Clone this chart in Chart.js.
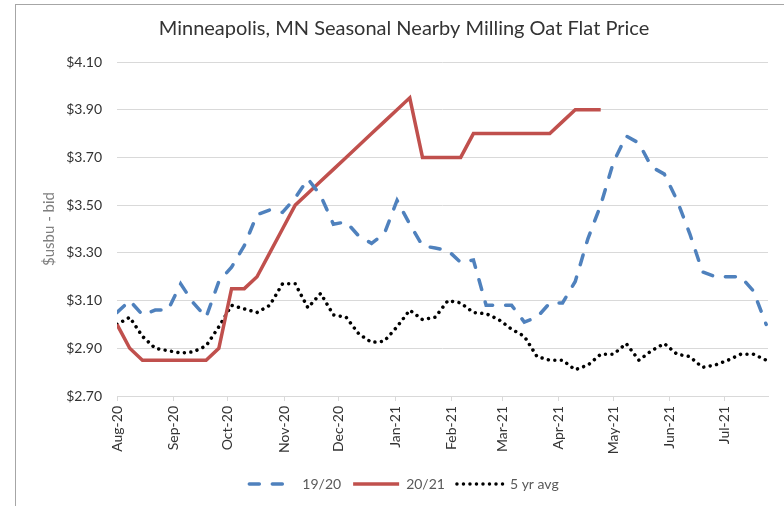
<!DOCTYPE html>
<html>
<head>
<meta charset="utf-8">
<script src="https://cdn.jsdelivr.net/npm/chart.js@4"></script>
<style>
  html, body { margin: 0; padding: 0; background: #fff; }
  #wrap { position: relative; width: 784px; height: 506px; overflow: hidden; }
  #frame { position: absolute; left: 15px; top: 4px; width: 800px; height: 600px; border: 1px solid #a6a6a6; }
  canvas { position: absolute; left: 0; top: 0; }
</style>
</head>
<body>
<div id="wrap">
  <div id="frame"></div>
  <canvas id="chart" width="784" height="506"></canvas>
</div>
<script>
// Weekly prices, first week = Aug 1 2020
const startDate = '2020-08-01';

const price1920 = [
  3.05, 3.10, 3.04, 3.06, 3.06, 3.17, 3.09, 3.03, 3.18, 3.24,
  3.33, 3.46, 3.48, 3.47, 3.53, 3.61, 3.54, 3.42, 3.43, 3.37,
  3.34, 3.38, 3.52, 3.42, 3.33, 3.32, 3.31, 3.26, 3.27, 3.08,
  3.08, 3.08, 3.01, 3.03, 3.09, 3.09, 3.18, 3.36, 3.50, 3.68,
  3.79, 3.76, 3.66, 3.63, 3.52, 3.38, 3.22, 3.20, 3.20, 3.20,
  3.14, 3.00
];

const price2021 = [
  3.00, 2.90, 2.85, 2.85, 2.85, 2.85, 2.85, 2.85, 2.90, 3.15,
  3.15, 3.20, 3.30, 3.40, 3.50, 3.55, 3.60, 3.65, 3.70, 3.75,
  3.80, 3.85, 3.90, 3.95, 3.70, 3.70, 3.70, 3.70, 3.80, 3.80,
  3.80, 3.80, 3.80, 3.80, 3.80, 3.85, 3.90, 3.90, 3.90
];

const avg5yr = [
  3.00, 3.03, 2.95, 2.90, 2.89, 2.88, 2.885, 2.91, 2.99, 3.08,
  3.065, 3.05, 3.08, 3.17, 3.17, 3.07, 3.13, 3.04, 3.03, 2.96,
  2.925, 2.93, 2.99, 3.06, 3.02, 3.03, 3.10, 3.09, 3.05, 3.045,
  3.02, 2.98, 2.95, 2.865, 2.85, 2.85, 2.81, 2.83, 2.875, 2.875,
  2.92, 2.85, 2.89, 2.92, 2.875, 2.865, 2.82, 2.83, 2.85, 2.875,
  2.875, 2.85
];

// Month ticks on the date axis
const monthStarts = [
  '2020-08-01', '2020-09-01', '2020-10-01', '2020-11-01', '2020-12-01', '2021-01-01',
  '2021-02-01', '2021-03-01', '2021-04-01', '2021-05-01', '2021-06-01', '2021-07-01'
];
const monthLabels = [
  'Aug-20', 'Sep-20', 'Oct-20', 'Nov-20', 'Dec-20', 'Jan-21',
  'Feb-21', 'Mar-21', 'Apr-21', 'May-21', 'Jun-21', 'Jul-21'
];

const yTicks = [2.70, 2.90, 3.10, 3.30, 3.50, 3.70, 3.90, 4.10];

const DAY = 86400000;
const t0 = Date.parse(startDate);
const dayOf = s => Math.round((Date.parse(s) - t0) / DAY);
const monthDays = monthStarts.map(dayOf);

// weekly points -> {x: day, y: price}
const toPoints = arr => arr.map((v, i) => ({ x: i * 7, y: v }));

const FONT = "Lato, 'Liberation Sans', sans-serif";

// legend samples: keep dash + round caps of each line
function legendLabels(chart) {
  const items = Chart.defaults.plugins.legend.labels.generateLabels(chart);
  items.forEach(item => {
    const ds = chart.data.datasets[item.datasetIndex];
    item.lineCap = ds.borderCapStyle || 'butt';
    item.lineDash = ds.borderDash ? ds.borderDash.slice() : [];
  });
  return items;
}

new Chart(document.getElementById('chart'), {
  type: 'line',
  data: {
    datasets: [
      {
        label: '19/20',
        data: toPoints(price1920),
        borderColor: '#4f81bd',
        borderWidth: 3.5,
        borderDash: [10, 13],
        borderCapStyle: 'round',
        pointRadius: 0,
        tension: 0
      },
      {
        label: '20/21',
        data: toPoints(price2021),
        borderColor: '#c0504d',
        borderWidth: 3.5,
        pointRadius: 0,
        tension: 0
      },
      {
        label: '5 yr avg',
        data: toPoints(avg5yr),
        borderColor: '#000000',
        borderWidth: 3.5,
        borderDash: [0.01, 6.5],
        borderCapStyle: 'round',
        pointRadius: 0,
        tension: 0
      }
    ]
  },
  options: {
    responsive: false,
    animation: false,
    layout: { padding: { left: 40, right: 16, top: 0, bottom: 5 } },
    plugins: {
      title: {
        display: true,
        text: 'Minneapolis, MN Seasonal Nearby Milling Oat Flat Price',
        color: '#333',
        font: { family: FONT, size: 20, weight: 'normal' },
        padding: { top: 17, bottom: 21 }
      },
      legend: {
        position: 'bottom',
        labels: {
          color: '#595959',
          font: { family: FONT, size: 14 },
          usePointStyle: true,
          pointStyle: 'line',
          pointStyleWidth: 46,
          padding: 12,
          generateLabels: legendLabels
        }
      },
      tooltip: { enabled: false }
    },
    scales: {
      x: {
        type: 'linear',
        min: 0,
        max: 358,
        afterBuildTicks: scale => { scale.ticks = monthDays.map(v => ({ value: v })); },
        afterFit: scale => { scale.height = 69; },
        ticks: {
          autoSkip: false,
          maxRotation: 90,
          minRotation: 90,
          color: '#333',
          font: { family: FONT, size: 14 },
          padding: 5,
          callback: (v, i) => monthLabels[i]
        },
        grid: { drawOnChartArea: false, drawTicks: true, tickLength: 5, color: '#d9d9d9' },
        border: { color: '#d9d9d9', width: 1 }
      },
      y: {
        min: 2.7,
        max: 4.1,
        afterBuildTicks: scale => { scale.ticks = yTicks.map(v => ({ value: v })); },
        afterFit: scale => { scale.width = 77; },
        ticks: {
          color: '#333',
          font: { family: FONT, size: 14 },
          padding: 15,
          callback: v => '$' + v.toFixed(2)
        },
        grid: { color: '#d9d9d9', lineWidth: 1, drawTicks: false },
        border: { display: false },
        title: {
          display: true,
          text: '$usbu - bid',
          color: '#7f7f7f',
          font: { family: FONT, size: 15 },
          padding: 0
        }
      }
    }
  }
});
</script>
</body>
</html>
